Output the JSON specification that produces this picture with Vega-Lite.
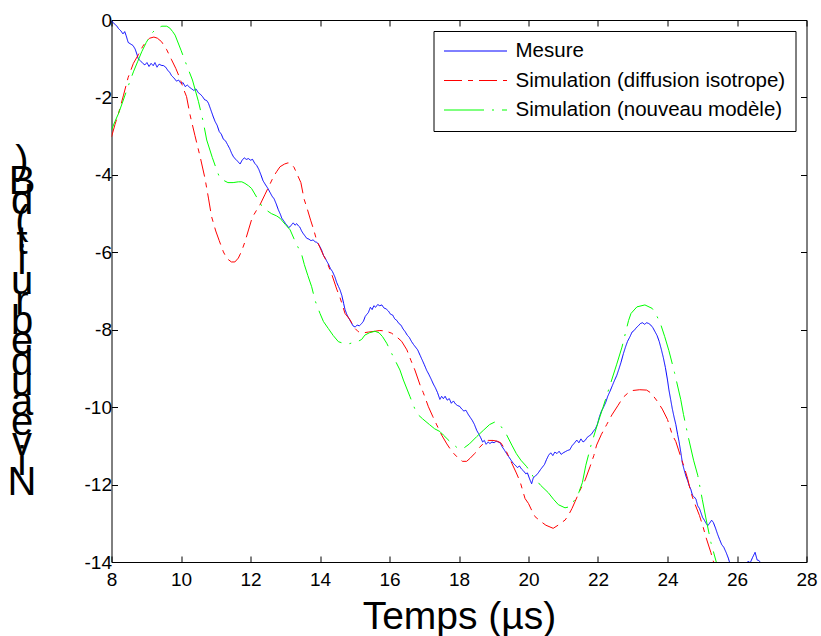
{
  "$schema": "https://vega.github.io/schema/vega-lite/v6.json",
  "width": 695,
  "height": 542,
  "autosize": {"type": "none"},
  "padding": {"left": 111.5, "top": 20, "right": 14.5, "bottom": 74},
  "background": "white",
  "config": {
    "font": "Liberation Sans",
    "view": {"stroke": null},
    "axis": {
      "domainColor": "black",
      "domainWidth": 1,
      "tickColor": "black",
      "tickSize": -6,
      "labelColor": "black",
      "labelFont": "Liberation Sans",
      "labelFontSize": 19,
      "titleFont": "Liberation Sans",
      "titleColor": "black",
      "titleFontWeight": "normal",
      "grid": false
    }
  },
  "data": {
    "values": [
      {"s":"Mesure","t":8.00,"v":-0.02},{"s":"Mesure","t":8.08,"v":-0.10},{"s":"Mesure","t":8.15,"v":-0.15},{"s":"Mesure","t":8.20,"v":-0.22},{"s":"Mesure","t":8.27,"v":-0.28},{"s":"Mesure","t":8.33,"v":-0.36},{"s":"Mesure","t":8.38,"v":-0.30},{"s":"Mesure","t":8.42,"v":-0.40},{"s":"Mesure","t":8.48,"v":-0.58},{"s":"Mesure","t":8.55,"v":-0.62},{"s":"Mesure","t":8.62,"v":-0.66},{"s":"Mesure","t":8.68,"v":-0.75},{"s":"Mesure","t":8.73,"v":-0.88},{"s":"Mesure","t":8.77,"v":-1.00},{"s":"Mesure","t":8.83,"v":-1.05},{"s":"Mesure","t":8.90,"v":-1.12},{"s":"Mesure","t":8.96,"v":-1.16},{"s":"Mesure","t":9.02,"v":-1.10},{"s":"Mesure","t":9.08,"v":-1.20},{"s":"Mesure","t":9.14,"v":-1.12},{"s":"Mesure","t":9.20,"v":-1.18},{"s":"Mesure","t":9.25,"v":-1.10},{"s":"Mesure","t":9.31,"v":-1.22},{"s":"Mesure","t":9.37,"v":-1.14},{"s":"Mesure","t":9.43,"v":-1.17},{"s":"Mesure","t":9.50,"v":-1.18},{"s":"Mesure","t":9.56,"v":-1.22},{"s":"Mesure","t":9.62,"v":-1.30},{"s":"Mesure","t":9.68,"v":-1.36},{"s":"Mesure","t":9.73,"v":-1.44},{"s":"Mesure","t":9.80,"v":-1.50},{"s":"Mesure","t":9.87,"v":-1.58},{"s":"Mesure","t":9.93,"v":-1.55},{"s":"Mesure","t":10.00,"v":-1.64},{"s":"Mesure","t":10.06,"v":-1.62},{"s":"Mesure","t":10.12,"v":-1.72},{"s":"Mesure","t":10.18,"v":-1.68},{"s":"Mesure","t":10.25,"v":-1.74},{"s":"Mesure","t":10.31,"v":-1.78},{"s":"Mesure","t":10.37,"v":-1.82},{"s":"Mesure","t":10.43,"v":-1.78},{"s":"Mesure","t":10.50,"v":-1.88},{"s":"Mesure","t":10.56,"v":-1.92},{"s":"Mesure","t":10.62,"v":-1.98},{"s":"Mesure","t":10.68,"v":-2.06},{"s":"Mesure","t":10.74,"v":-2.08},{"s":"Mesure","t":10.79,"v":-2.15},{"s":"Mesure","t":10.85,"v":-2.30},{"s":"Mesure","t":10.92,"v":-2.48},{"s":"Mesure","t":10.98,"v":-2.62},{"s":"Mesure","t":11.04,"v":-2.72},{"s":"Mesure","t":11.10,"v":-2.88},{"s":"Mesure","t":11.16,"v":-2.95},{"s":"Mesure","t":11.22,"v":-3.08},{"s":"Mesure","t":11.28,"v":-3.12},{"s":"Mesure","t":11.34,"v":-3.22},{"s":"Mesure","t":11.40,"v":-3.32},{"s":"Mesure","t":11.46,"v":-3.45},{"s":"Mesure","t":11.52,"v":-3.55},{"s":"Mesure","t":11.58,"v":-3.60},{"s":"Mesure","t":11.64,"v":-3.66},{"s":"Mesure","t":11.70,"v":-3.72},{"s":"Mesure","t":11.76,"v":-3.62},{"s":"Mesure","t":11.82,"v":-3.56},{"s":"Mesure","t":11.88,"v":-3.60},{"s":"Mesure","t":11.94,"v":-3.58},{"s":"Mesure","t":12.00,"v":-3.62},{"s":"Mesure","t":12.06,"v":-3.60},{"s":"Mesure","t":12.12,"v":-3.70},{"s":"Mesure","t":12.18,"v":-3.76},{"s":"Mesure","t":12.24,"v":-3.86},{"s":"Mesure","t":12.30,"v":-4.00},{"s":"Mesure","t":12.36,"v":-4.15},{"s":"Mesure","t":12.42,"v":-4.24},{"s":"Mesure","t":12.50,"v":-4.35},{"s":"Mesure","t":12.56,"v":-4.45},{"s":"Mesure","t":12.62,"v":-4.55},{"s":"Mesure","t":12.68,"v":-4.62},{"s":"Mesure","t":12.74,"v":-4.75},{"s":"Mesure","t":12.80,"v":-4.90},{"s":"Mesure","t":12.86,"v":-5.02},{"s":"Mesure","t":12.90,"v":-5.12},{"s":"Mesure","t":12.95,"v":-5.18},{"s":"Mesure","t":13.00,"v":-5.25},{"s":"Mesure","t":13.05,"v":-5.30},{"s":"Mesure","t":13.09,"v":-5.36},{"s":"Mesure","t":13.14,"v":-5.34},{"s":"Mesure","t":13.19,"v":-5.28},{"s":"Mesure","t":13.23,"v":-5.24},{"s":"Mesure","t":13.28,"v":-5.30},{"s":"Mesure","t":13.33,"v":-5.26},{"s":"Mesure","t":13.38,"v":-5.32},{"s":"Mesure","t":13.42,"v":-5.35},{"s":"Mesure","t":13.47,"v":-5.45},{"s":"Mesure","t":13.52,"v":-5.52},{"s":"Mesure","t":13.57,"v":-5.58},{"s":"Mesure","t":13.62,"v":-5.64},{"s":"Mesure","t":13.68,"v":-5.66},{"s":"Mesure","t":13.74,"v":-5.70},{"s":"Mesure","t":13.80,"v":-5.68},{"s":"Mesure","t":13.86,"v":-5.73},{"s":"Mesure","t":13.90,"v":-5.74},{"s":"Mesure","t":13.95,"v":-5.78},{"s":"Mesure","t":14.00,"v":-5.86},{"s":"Mesure","t":14.05,"v":-5.95},{"s":"Mesure","t":14.10,"v":-6.08},{"s":"Mesure","t":14.15,"v":-6.15},{"s":"Mesure","t":14.20,"v":-6.24},{"s":"Mesure","t":14.24,"v":-6.30},{"s":"Mesure","t":14.30,"v":-6.42},{"s":"Mesure","t":14.36,"v":-6.50},{"s":"Mesure","t":14.43,"v":-6.64},{"s":"Mesure","t":14.48,"v":-6.78},{"s":"Mesure","t":14.53,"v":-6.88},{"s":"Mesure","t":14.58,"v":-6.98},{"s":"Mesure","t":14.63,"v":-7.12},{"s":"Mesure","t":14.68,"v":-7.32},{"s":"Mesure","t":14.72,"v":-7.48},{"s":"Mesure","t":14.78,"v":-7.62},{"s":"Mesure","t":14.84,"v":-7.72},{"s":"Mesure","t":14.90,"v":-7.82},{"s":"Mesure","t":14.95,"v":-7.90},{"s":"Mesure","t":15.01,"v":-7.93},{"s":"Mesure","t":15.07,"v":-7.88},{"s":"Mesure","t":15.13,"v":-7.90},{"s":"Mesure","t":15.20,"v":-7.84},{"s":"Mesure","t":15.25,"v":-7.78},{"s":"Mesure","t":15.30,"v":-7.66},{"s":"Mesure","t":15.35,"v":-7.60},{"s":"Mesure","t":15.39,"v":-7.56},{"s":"Mesure","t":15.45,"v":-7.42},{"s":"Mesure","t":15.50,"v":-7.48},{"s":"Mesure","t":15.55,"v":-7.38},{"s":"Mesure","t":15.60,"v":-7.42},{"s":"Mesure","t":15.66,"v":-7.35},{"s":"Mesure","t":15.72,"v":-7.38},{"s":"Mesure","t":15.78,"v":-7.36},{"s":"Mesure","t":15.84,"v":-7.44},{"s":"Mesure","t":15.90,"v":-7.46},{"s":"Mesure","t":15.97,"v":-7.52},{"s":"Mesure","t":16.03,"v":-7.60},{"s":"Mesure","t":16.09,"v":-7.62},{"s":"Mesure","t":16.15,"v":-7.72},{"s":"Mesure","t":16.21,"v":-7.76},{"s":"Mesure","t":16.27,"v":-7.84},{"s":"Mesure","t":16.33,"v":-7.88},{"s":"Mesure","t":16.39,"v":-7.98},{"s":"Mesure","t":16.45,"v":-8.05},{"s":"Mesure","t":16.51,"v":-8.14},{"s":"Mesure","t":16.57,"v":-8.20},{"s":"Mesure","t":16.63,"v":-8.30},{"s":"Mesure","t":16.69,"v":-8.38},{"s":"Mesure","t":16.75,"v":-8.45},{"s":"Mesure","t":16.81,"v":-8.52},{"s":"Mesure","t":16.88,"v":-8.66},{"s":"Mesure","t":16.94,"v":-8.78},{"s":"Mesure","t":17.00,"v":-8.90},{"s":"Mesure","t":17.07,"v":-9.05},{"s":"Mesure","t":17.13,"v":-9.15},{"s":"Mesure","t":17.20,"v":-9.28},{"s":"Mesure","t":17.26,"v":-9.40},{"s":"Mesure","t":17.32,"v":-9.50},{"s":"Mesure","t":17.38,"v":-9.62},{"s":"Mesure","t":17.45,"v":-9.80},{"s":"Mesure","t":17.50,"v":-9.72},{"s":"Mesure","t":17.55,"v":-9.78},{"s":"Mesure","t":17.60,"v":-9.72},{"s":"Mesure","t":17.66,"v":-9.82},{"s":"Mesure","t":17.72,"v":-9.78},{"s":"Mesure","t":17.78,"v":-9.90},{"s":"Mesure","t":17.84,"v":-9.84},{"s":"Mesure","t":17.90,"v":-9.92},{"s":"Mesure","t":17.96,"v":-9.96},{"s":"Mesure","t":18.02,"v":-9.98},{"s":"Mesure","t":18.08,"v":-10.05},{"s":"Mesure","t":18.14,"v":-10.10},{"s":"Mesure","t":18.20,"v":-10.08},{"s":"Mesure","t":18.26,"v":-10.18},{"s":"Mesure","t":18.32,"v":-10.26},{"s":"Mesure","t":18.38,"v":-10.34},{"s":"Mesure","t":18.44,"v":-10.44},{"s":"Mesure","t":18.51,"v":-10.60},{"s":"Mesure","t":18.56,"v":-10.68},{"s":"Mesure","t":18.62,"v":-10.78},{"s":"Mesure","t":18.68,"v":-10.90},{"s":"Mesure","t":18.73,"v":-10.86},{"s":"Mesure","t":18.78,"v":-10.96},{"s":"Mesure","t":18.84,"v":-10.90},{"s":"Mesure","t":18.89,"v":-10.94},{"s":"Mesure","t":18.95,"v":-10.90},{"s":"Mesure","t":19.01,"v":-10.92},{"s":"Mesure","t":19.07,"v":-10.88},{"s":"Mesure","t":19.13,"v":-10.90},{"s":"Mesure","t":19.18,"v":-10.92},{"s":"Mesure","t":19.24,"v":-11.02},{"s":"Mesure","t":19.30,"v":-11.10},{"s":"Mesure","t":19.37,"v":-11.20},{"s":"Mesure","t":19.43,"v":-11.28},{"s":"Mesure","t":19.49,"v":-11.36},{"s":"Mesure","t":19.56,"v":-11.45},{"s":"Mesure","t":19.62,"v":-11.50},{"s":"Mesure","t":19.68,"v":-11.56},{"s":"Mesure","t":19.74,"v":-11.52},{"s":"Mesure","t":19.80,"v":-11.60},{"s":"Mesure","t":19.85,"v":-11.64},{"s":"Mesure","t":19.92,"v":-11.72},{"s":"Mesure","t":19.97,"v":-11.70},{"s":"Mesure","t":20.03,"v":-11.85},{"s":"Mesure","t":20.09,"v":-11.98},{"s":"Mesure","t":20.14,"v":-11.82},{"s":"Mesure","t":20.20,"v":-11.78},{"s":"Mesure","t":20.28,"v":-11.70},{"s":"Mesure","t":20.34,"v":-11.62},{"s":"Mesure","t":20.40,"v":-11.55},{"s":"Mesure","t":20.46,"v":-11.48},{"s":"Mesure","t":20.52,"v":-11.35},{"s":"Mesure","t":20.58,"v":-11.24},{"s":"Mesure","t":20.64,"v":-11.18},{"s":"Mesure","t":20.70,"v":-11.25},{"s":"Mesure","t":20.76,"v":-11.16},{"s":"Mesure","t":20.82,"v":-11.20},{"s":"Mesure","t":20.88,"v":-11.14},{"s":"Mesure","t":20.94,"v":-11.22},{"s":"Mesure","t":21.00,"v":-11.18},{"s":"Mesure","t":21.06,"v":-11.15},{"s":"Mesure","t":21.12,"v":-11.12},{"s":"Mesure","t":21.19,"v":-11.10},{"s":"Mesure","t":21.25,"v":-11.00},{"s":"Mesure","t":21.31,"v":-10.94},{"s":"Mesure","t":21.39,"v":-10.85},{"s":"Mesure","t":21.45,"v":-10.92},{"s":"Mesure","t":21.51,"v":-10.82},{"s":"Mesure","t":21.57,"v":-10.90},{"s":"Mesure","t":21.63,"v":-10.86},{"s":"Mesure","t":21.69,"v":-10.78},{"s":"Mesure","t":21.75,"v":-10.74},{"s":"Mesure","t":21.81,"v":-10.70},{"s":"Mesure","t":21.87,"v":-10.62},{"s":"Mesure","t":21.93,"v":-10.55},{"s":"Mesure","t":21.98,"v":-10.45},{"s":"Mesure","t":22.04,"v":-10.25},{"s":"Mesure","t":22.10,"v":-10.10},{"s":"Mesure","t":22.15,"v":-10.02},{"s":"Mesure","t":22.22,"v":-9.88},{"s":"Mesure","t":22.28,"v":-9.72},{"s":"Mesure","t":22.35,"v":-9.58},{"s":"Mesure","t":22.41,"v":-9.45},{"s":"Mesure","t":22.47,"v":-9.32},{"s":"Mesure","t":22.54,"v":-9.18},{"s":"Mesure","t":22.60,"v":-9.02},{"s":"Mesure","t":22.66,"v":-8.85},{"s":"Mesure","t":22.73,"v":-8.62},{"s":"Mesure","t":22.79,"v":-8.45},{"s":"Mesure","t":22.85,"v":-8.30},{"s":"Mesure","t":22.92,"v":-8.18},{"s":"Mesure","t":22.98,"v":-8.06},{"s":"Mesure","t":23.04,"v":-8.02},{"s":"Mesure","t":23.10,"v":-7.95},{"s":"Mesure","t":23.16,"v":-7.90},{"s":"Mesure","t":23.22,"v":-7.84},{"s":"Mesure","t":23.28,"v":-7.82},{"s":"Mesure","t":23.34,"v":-7.86},{"s":"Mesure","t":23.40,"v":-7.82},{"s":"Mesure","t":23.46,"v":-7.84},{"s":"Mesure","t":23.52,"v":-7.88},{"s":"Mesure","t":23.58,"v":-7.95},{"s":"Mesure","t":23.64,"v":-8.05},{"s":"Mesure","t":23.70,"v":-8.15},{"s":"Mesure","t":23.76,"v":-8.30},{"s":"Mesure","t":23.82,"v":-8.50},{"s":"Mesure","t":23.88,"v":-8.72},{"s":"Mesure","t":23.94,"v":-8.98},{"s":"Mesure","t":24.00,"v":-9.30},{"s":"Mesure","t":24.04,"v":-9.55},{"s":"Mesure","t":24.09,"v":-9.80},{"s":"Mesure","t":24.14,"v":-10.05},{"s":"Mesure","t":24.19,"v":-10.26},{"s":"Mesure","t":24.24,"v":-10.45},{"s":"Mesure","t":24.29,"v":-10.70},{"s":"Mesure","t":24.33,"v":-10.88},{"s":"Mesure","t":24.38,"v":-11.15},{"s":"Mesure","t":24.43,"v":-11.45},{"s":"Mesure","t":24.48,"v":-11.62},{"s":"Mesure","t":24.53,"v":-11.78},{"s":"Mesure","t":24.58,"v":-11.90},{"s":"Mesure","t":24.62,"v":-12.02},{"s":"Mesure","t":24.67,"v":-12.12},{"s":"Mesure","t":24.72,"v":-12.28},{"s":"Mesure","t":24.77,"v":-12.32},{"s":"Mesure","t":24.82,"v":-12.38},{"s":"Mesure","t":24.87,"v":-12.55},{"s":"Mesure","t":24.92,"v":-12.62},{"s":"Mesure","t":24.96,"v":-12.72},{"s":"Mesure","t":25.01,"v":-12.85},{"s":"Mesure","t":25.06,"v":-12.92},{"s":"Mesure","t":25.11,"v":-13.00},{"s":"Mesure","t":25.16,"v":-13.06},{"s":"Mesure","t":25.21,"v":-13.00},{"s":"Mesure","t":25.27,"v":-12.92},{"s":"Mesure","t":25.32,"v":-12.98},{"s":"Mesure","t":25.38,"v":-13.12},{"s":"Mesure","t":25.44,"v":-13.28},{"s":"Mesure","t":25.50,"v":-13.42},{"s":"Mesure","t":25.56,"v":-13.55},{"s":"Mesure","t":25.62,"v":-13.62},{"s":"Mesure","t":25.69,"v":-13.76},{"s":"Mesure","t":25.75,"v":-13.90},{"s":"Mesure","t":25.80,"v":-14.05},{"s":"Mesure","t":25.86,"v":-14.15},{"s":"Mesure","t":25.95,"v":-14.30},{"s":"Mesure","t":26.05,"v":-14.40},{"s":"Mesure","t":26.15,"v":-14.25},{"s":"Mesure","t":26.25,"v":-14.05},{"s":"Mesure","t":26.32,"v":-13.98},{"s":"Mesure","t":26.38,"v":-14.02},{"s":"Mesure","t":26.45,"v":-13.88},{"s":"Mesure","t":26.52,"v":-13.75},{"s":"Mesure","t":26.58,"v":-13.95},{"s":"Mesure","t":26.63,"v":-13.96},{"s":"Mesure","t":26.68,"v":-14.02},{"s":"Mesure","t":26.75,"v":-14.25},{"s":"Mesure","t":26.85,"v":-14.50},

      {"s":"Simulation (diffusion isotrope)","t":8.00,"v":-3.02},{"s":"Simulation (diffusion isotrope)","t":8.10,"v":-2.70},{"s":"Simulation (diffusion isotrope)","t":8.20,"v":-2.42},{"s":"Simulation (diffusion isotrope)","t":8.34,"v":-1.96},{"s":"Simulation (diffusion isotrope)","t":8.48,"v":-1.48},{"s":"Simulation (diffusion isotrope)","t":8.63,"v":-1.12},{"s":"Simulation (diffusion isotrope)","t":8.77,"v":-0.90},{"s":"Simulation (diffusion isotrope)","t":8.90,"v":-0.68},{"s":"Simulation (diffusion isotrope)","t":9.00,"v":-0.55},{"s":"Simulation (diffusion isotrope)","t":9.10,"v":-0.47},{"s":"Simulation (diffusion isotrope)","t":9.22,"v":-0.44},{"s":"Simulation (diffusion isotrope)","t":9.32,"v":-0.47},{"s":"Simulation (diffusion isotrope)","t":9.44,"v":-0.56},{"s":"Simulation (diffusion isotrope)","t":9.59,"v":-0.77},{"s":"Simulation (diffusion isotrope)","t":9.73,"v":-1.03},{"s":"Simulation (diffusion isotrope)","t":9.85,"v":-1.25},{"s":"Simulation (diffusion isotrope)","t":9.97,"v":-1.51},{"s":"Simulation (diffusion isotrope)","t":10.08,"v":-1.80},{"s":"Simulation (diffusion isotrope)","t":10.16,"v":-1.98},{"s":"Simulation (diffusion isotrope)","t":10.26,"v":-2.45},{"s":"Simulation (diffusion isotrope)","t":10.40,"v":-2.98},{"s":"Simulation (diffusion isotrope)","t":10.55,"v":-3.53},{"s":"Simulation (diffusion isotrope)","t":10.69,"v":-4.09},{"s":"Simulation (diffusion isotrope)","t":10.79,"v":-4.60},{"s":"Simulation (diffusion isotrope)","t":10.88,"v":-5.08},{"s":"Simulation (diffusion isotrope)","t":11.00,"v":-5.45},{"s":"Simulation (diffusion isotrope)","t":11.10,"v":-5.70},{"s":"Simulation (diffusion isotrope)","t":11.22,"v":-5.99},{"s":"Simulation (diffusion isotrope)","t":11.32,"v":-6.16},{"s":"Simulation (diffusion isotrope)","t":11.45,"v":-6.25},{"s":"Simulation (diffusion isotrope)","t":11.55,"v":-6.25},{"s":"Simulation (diffusion isotrope)","t":11.65,"v":-6.15},{"s":"Simulation (diffusion isotrope)","t":11.74,"v":-5.98},{"s":"Simulation (diffusion isotrope)","t":11.84,"v":-5.73},{"s":"Simulation (diffusion isotrope)","t":11.95,"v":-5.40},{"s":"Simulation (diffusion isotrope)","t":12.05,"v":-5.10},{"s":"Simulation (diffusion isotrope)","t":12.17,"v":-4.92},{"s":"Simulation (diffusion isotrope)","t":12.27,"v":-4.78},{"s":"Simulation (diffusion isotrope)","t":12.42,"v":-4.50},{"s":"Simulation (diffusion isotrope)","t":12.56,"v":-4.24},{"s":"Simulation (diffusion isotrope)","t":12.66,"v":-4.05},{"s":"Simulation (diffusion isotrope)","t":12.75,"v":-3.92},{"s":"Simulation (diffusion isotrope)","t":12.85,"v":-3.79},{"s":"Simulation (diffusion isotrope)","t":12.98,"v":-3.72},{"s":"Simulation (diffusion isotrope)","t":13.08,"v":-3.69},{"s":"Simulation (diffusion isotrope)","t":13.14,"v":-3.70},{"s":"Simulation (diffusion isotrope)","t":13.25,"v":-3.80},{"s":"Simulation (diffusion isotrope)","t":13.35,"v":-4.00},{"s":"Simulation (diffusion isotrope)","t":13.45,"v":-4.20},{"s":"Simulation (diffusion isotrope)","t":13.54,"v":-4.62},{"s":"Simulation (diffusion isotrope)","t":13.62,"v":-4.84},{"s":"Simulation (diffusion isotrope)","t":13.73,"v":-5.17},{"s":"Simulation (diffusion isotrope)","t":13.82,"v":-5.42},{"s":"Simulation (diffusion isotrope)","t":13.90,"v":-5.68},{"s":"Simulation (diffusion isotrope)","t":14.00,"v":-5.88},{"s":"Simulation (diffusion isotrope)","t":14.10,"v":-6.08},{"s":"Simulation (diffusion isotrope)","t":14.20,"v":-6.25},{"s":"Simulation (diffusion isotrope)","t":14.35,"v":-6.60},{"s":"Simulation (diffusion isotrope)","t":14.48,"v":-6.95},{"s":"Simulation (diffusion isotrope)","t":14.58,"v":-7.18},{"s":"Simulation (diffusion isotrope)","t":14.72,"v":-7.58},{"s":"Simulation (diffusion isotrope)","t":14.86,"v":-7.74},{"s":"Simulation (diffusion isotrope)","t":15.00,"v":-7.96},{"s":"Simulation (diffusion isotrope)","t":15.10,"v":-8.05},{"s":"Simulation (diffusion isotrope)","t":15.25,"v":-8.08},{"s":"Simulation (diffusion isotrope)","t":15.40,"v":-8.06},{"s":"Simulation (diffusion isotrope)","t":15.58,"v":-8.04},{"s":"Simulation (diffusion isotrope)","t":15.72,"v":-8.02},{"s":"Simulation (diffusion isotrope)","t":15.85,"v":-8.03},{"s":"Simulation (diffusion isotrope)","t":15.97,"v":-8.06},{"s":"Simulation (diffusion isotrope)","t":16.06,"v":-8.09},{"s":"Simulation (diffusion isotrope)","t":16.20,"v":-8.18},{"s":"Simulation (diffusion isotrope)","t":16.35,"v":-8.30},{"s":"Simulation (diffusion isotrope)","t":16.50,"v":-8.52},{"s":"Simulation (diffusion isotrope)","t":16.62,"v":-8.80},{"s":"Simulation (diffusion isotrope)","t":16.73,"v":-9.04},{"s":"Simulation (diffusion isotrope)","t":16.88,"v":-9.43},{"s":"Simulation (diffusion isotrope)","t":16.97,"v":-9.62},{"s":"Simulation (diffusion isotrope)","t":17.12,"v":-9.99},{"s":"Simulation (diffusion isotrope)","t":17.25,"v":-10.25},{"s":"Simulation (diffusion isotrope)","t":17.36,"v":-10.46},{"s":"Simulation (diffusion isotrope)","t":17.50,"v":-10.72},{"s":"Simulation (diffusion isotrope)","t":17.65,"v":-10.95},{"s":"Simulation (diffusion isotrope)","t":17.80,"v":-11.15},{"s":"Simulation (diffusion isotrope)","t":17.98,"v":-11.32},{"s":"Simulation (diffusion isotrope)","t":18.10,"v":-11.40},{"s":"Simulation (diffusion isotrope)","t":18.22,"v":-11.40},{"s":"Simulation (diffusion isotrope)","t":18.32,"v":-11.32},{"s":"Simulation (diffusion isotrope)","t":18.45,"v":-11.20},{"s":"Simulation (diffusion isotrope)","t":18.58,"v":-11.05},{"s":"Simulation (diffusion isotrope)","t":18.70,"v":-10.94},{"s":"Simulation (diffusion isotrope)","t":18.84,"v":-10.86},{"s":"Simulation (diffusion isotrope)","t":18.98,"v":-10.86},{"s":"Simulation (diffusion isotrope)","t":19.10,"v":-10.88},{"s":"Simulation (diffusion isotrope)","t":19.20,"v":-10.92},{"s":"Simulation (diffusion isotrope)","t":19.35,"v":-11.12},{"s":"Simulation (diffusion isotrope)","t":19.52,"v":-11.45},{"s":"Simulation (diffusion isotrope)","t":19.65,"v":-11.70},{"s":"Simulation (diffusion isotrope)","t":19.76,"v":-11.93},{"s":"Simulation (diffusion isotrope)","t":19.90,"v":-12.36},{"s":"Simulation (diffusion isotrope)","t":20.00,"v":-12.49},{"s":"Simulation (diffusion isotrope)","t":20.10,"v":-12.68},{"s":"Simulation (diffusion isotrope)","t":20.19,"v":-12.83},{"s":"Simulation (diffusion isotrope)","t":20.35,"v":-12.95},{"s":"Simulation (diffusion isotrope)","t":20.50,"v":-13.05},{"s":"Simulation (diffusion isotrope)","t":20.71,"v":-13.13},{"s":"Simulation (diffusion isotrope)","t":20.85,"v":-13.05},{"s":"Simulation (diffusion isotrope)","t":20.95,"v":-12.98},{"s":"Simulation (diffusion isotrope)","t":21.05,"v":-12.92},{"s":"Simulation (diffusion isotrope)","t":21.15,"v":-12.79},{"s":"Simulation (diffusion isotrope)","t":21.25,"v":-12.62},{"s":"Simulation (diffusion isotrope)","t":21.34,"v":-12.44},{"s":"Simulation (diffusion isotrope)","t":21.48,"v":-12.15},{"s":"Simulation (diffusion isotrope)","t":21.63,"v":-11.88},{"s":"Simulation (diffusion isotrope)","t":21.77,"v":-11.54},{"s":"Simulation (diffusion isotrope)","t":21.88,"v":-11.25},{"s":"Simulation (diffusion isotrope)","t":21.96,"v":-10.98},{"s":"Simulation (diffusion isotrope)","t":22.10,"v":-10.70},{"s":"Simulation (diffusion isotrope)","t":22.25,"v":-10.45},{"s":"Simulation (diffusion isotrope)","t":22.40,"v":-10.20},{"s":"Simulation (diffusion isotrope)","t":22.58,"v":-9.95},{"s":"Simulation (diffusion isotrope)","t":22.72,"v":-9.75},{"s":"Simulation (diffusion isotrope)","t":22.88,"v":-9.62},{"s":"Simulation (diffusion isotrope)","t":23.00,"v":-9.57},{"s":"Simulation (diffusion isotrope)","t":23.20,"v":-9.55},{"s":"Simulation (diffusion isotrope)","t":23.40,"v":-9.56},{"s":"Simulation (diffusion isotrope)","t":23.50,"v":-9.62},{"s":"Simulation (diffusion isotrope)","t":23.60,"v":-9.72},{"s":"Simulation (diffusion isotrope)","t":23.70,"v":-9.84},{"s":"Simulation (diffusion isotrope)","t":23.85,"v":-10.05},{"s":"Simulation (diffusion isotrope)","t":24.00,"v":-10.32},{"s":"Simulation (diffusion isotrope)","t":24.14,"v":-10.72},{"s":"Simulation (diffusion isotrope)","t":24.24,"v":-10.89},{"s":"Simulation (diffusion isotrope)","t":24.38,"v":-11.28},{"s":"Simulation (diffusion isotrope)","t":24.48,"v":-11.55},{"s":"Simulation (diffusion isotrope)","t":24.58,"v":-11.85},{"s":"Simulation (diffusion isotrope)","t":24.67,"v":-12.19},{"s":"Simulation (diffusion isotrope)","t":24.75,"v":-12.41},{"s":"Simulation (diffusion isotrope)","t":24.92,"v":-12.80},{"s":"Simulation (diffusion isotrope)","t":25.02,"v":-13.08},{"s":"Simulation (diffusion isotrope)","t":25.11,"v":-13.37},{"s":"Simulation (diffusion isotrope)","t":25.25,"v":-13.76},{"s":"Simulation (diffusion isotrope)","t":25.30,"v":-13.93},{"s":"Simulation (diffusion isotrope)","t":25.40,"v":-14.20},

      {"s":"Simulation (nouveau modèle)","t":8.00,"v":-2.84},{"s":"Simulation (nouveau modèle)","t":8.10,"v":-2.62},{"s":"Simulation (nouveau modèle)","t":8.20,"v":-2.42},{"s":"Simulation (nouveau modèle)","t":8.32,"v":-2.12},{"s":"Simulation (nouveau modèle)","t":8.44,"v":-1.81},{"s":"Simulation (nouveau modèle)","t":8.54,"v":-1.56},{"s":"Simulation (nouveau modèle)","t":8.63,"v":-1.34},{"s":"Simulation (nouveau modèle)","t":8.75,"v":-1.08},{"s":"Simulation (nouveau modèle)","t":8.87,"v":-0.82},{"s":"Simulation (nouveau modèle)","t":9.00,"v":-0.58},{"s":"Simulation (nouveau modèle)","t":9.16,"v":-0.34},{"s":"Simulation (nouveau modèle)","t":9.30,"v":-0.22},{"s":"Simulation (nouveau modèle)","t":9.45,"v":-0.16},{"s":"Simulation (nouveau modèle)","t":9.59,"v":-0.16},{"s":"Simulation (nouveau modèle)","t":9.68,"v":-0.21},{"s":"Simulation (nouveau modèle)","t":9.76,"v":-0.30},{"s":"Simulation (nouveau modèle)","t":9.83,"v":-0.39},{"s":"Simulation (nouveau modèle)","t":10.00,"v":-0.78},{"s":"Simulation (nouveau modèle)","t":10.16,"v":-1.16},{"s":"Simulation (nouveau modèle)","t":10.33,"v":-1.55},{"s":"Simulation (nouveau modèle)","t":10.50,"v":-2.10},{"s":"Simulation (nouveau modèle)","t":10.64,"v":-2.63},{"s":"Simulation (nouveau modèle)","t":10.74,"v":-3.10},{"s":"Simulation (nouveau modèle)","t":10.90,"v":-3.55},{"s":"Simulation (nouveau modèle)","t":11.03,"v":-3.88},{"s":"Simulation (nouveau modèle)","t":11.12,"v":-4.09},{"s":"Simulation (nouveau modèle)","t":11.20,"v":-4.13},{"s":"Simulation (nouveau modèle)","t":11.35,"v":-4.20},{"s":"Simulation (nouveau modèle)","t":11.50,"v":-4.20},{"s":"Simulation (nouveau modèle)","t":11.65,"v":-4.18},{"s":"Simulation (nouveau modèle)","t":11.75,"v":-4.18},{"s":"Simulation (nouveau modèle)","t":11.84,"v":-4.22},{"s":"Simulation (nouveau modèle)","t":11.94,"v":-4.28},{"s":"Simulation (nouveau modèle)","t":12.03,"v":-4.35},{"s":"Simulation (nouveau modèle)","t":12.18,"v":-4.58},{"s":"Simulation (nouveau modèle)","t":12.32,"v":-4.80},{"s":"Simulation (nouveau modèle)","t":12.47,"v":-4.92},{"s":"Simulation (nouveau modèle)","t":12.60,"v":-5.00},{"s":"Simulation (nouveau modèle)","t":12.75,"v":-5.06},{"s":"Simulation (nouveau modèle)","t":12.85,"v":-5.12},{"s":"Simulation (nouveau modèle)","t":13.00,"v":-5.28},{"s":"Simulation (nouveau modèle)","t":13.14,"v":-5.42},{"s":"Simulation (nouveau modèle)","t":13.30,"v":-5.75},{"s":"Simulation (nouveau modèle)","t":13.47,"v":-6.05},{"s":"Simulation (nouveau modèle)","t":13.55,"v":-6.32},{"s":"Simulation (nouveau modèle)","t":13.65,"v":-6.60},{"s":"Simulation (nouveau modèle)","t":13.76,"v":-6.89},{"s":"Simulation (nouveau modèle)","t":13.86,"v":-7.25},{"s":"Simulation (nouveau modèle)","t":14.00,"v":-7.58},{"s":"Simulation (nouveau modèle)","t":14.10,"v":-7.79},{"s":"Simulation (nouveau modèle)","t":14.24,"v":-7.97},{"s":"Simulation (nouveau modèle)","t":14.38,"v":-8.15},{"s":"Simulation (nouveau modèle)","t":14.53,"v":-8.31},{"s":"Simulation (nouveau modèle)","t":14.70,"v":-8.36},{"s":"Simulation (nouveau modèle)","t":14.85,"v":-8.36},{"s":"Simulation (nouveau modèle)","t":14.96,"v":-8.33},{"s":"Simulation (nouveau modèle)","t":15.10,"v":-8.30},{"s":"Simulation (nouveau modèle)","t":15.20,"v":-8.25},{"s":"Simulation (nouveau modèle)","t":15.29,"v":-8.14},{"s":"Simulation (nouveau modèle)","t":15.42,"v":-8.08},{"s":"Simulation (nouveau modèle)","t":15.58,"v":-8.04},{"s":"Simulation (nouveau modèle)","t":15.70,"v":-8.08},{"s":"Simulation (nouveau modèle)","t":15.80,"v":-8.18},{"s":"Simulation (nouveau modèle)","t":15.92,"v":-8.35},{"s":"Simulation (nouveau modèle)","t":16.11,"v":-8.70},{"s":"Simulation (nouveau modèle)","t":16.30,"v":-9.04},{"s":"Simulation (nouveau modèle)","t":16.40,"v":-9.30},{"s":"Simulation (nouveau modèle)","t":16.59,"v":-9.73},{"s":"Simulation (nouveau modèle)","t":16.78,"v":-10.16},{"s":"Simulation (nouveau modèle)","t":16.95,"v":-10.30},{"s":"Simulation (nouveau modèle)","t":17.15,"v":-10.45},{"s":"Simulation (nouveau modèle)","t":17.30,"v":-10.56},{"s":"Simulation (nouveau modèle)","t":17.45,"v":-10.63},{"s":"Simulation (nouveau modèle)","t":17.55,"v":-10.72},{"s":"Simulation (nouveau modèle)","t":17.74,"v":-10.89},{"s":"Simulation (nouveau modèle)","t":17.95,"v":-11.05},{"s":"Simulation (nouveau modèle)","t":18.12,"v":-11.07},{"s":"Simulation (nouveau modèle)","t":18.30,"v":-10.95},{"s":"Simulation (nouveau modèle)","t":18.51,"v":-10.76},{"s":"Simulation (nouveau modèle)","t":18.70,"v":-10.60},{"s":"Simulation (nouveau modèle)","t":18.88,"v":-10.45},{"s":"Simulation (nouveau modèle)","t":19.04,"v":-10.38},{"s":"Simulation (nouveau modèle)","t":19.18,"v":-10.46},{"s":"Simulation (nouveau modèle)","t":19.35,"v":-10.68},{"s":"Simulation (nouveau modèle)","t":19.52,"v":-10.98},{"s":"Simulation (nouveau modèle)","t":19.65,"v":-11.20},{"s":"Simulation (nouveau modèle)","t":19.78,"v":-11.37},{"s":"Simulation (nouveau modèle)","t":19.95,"v":-11.54},{"s":"Simulation (nouveau modèle)","t":20.14,"v":-11.80},{"s":"Simulation (nouveau modèle)","t":20.35,"v":-12.02},{"s":"Simulation (nouveau modèle)","t":20.57,"v":-12.21},{"s":"Simulation (nouveau modèle)","t":20.72,"v":-12.38},{"s":"Simulation (nouveau modèle)","t":20.86,"v":-12.52},{"s":"Simulation (nouveau modèle)","t":21.05,"v":-12.60},{"s":"Simulation (nouveau modèle)","t":21.20,"v":-12.57},{"s":"Simulation (nouveau modèle)","t":21.34,"v":-12.38},{"s":"Simulation (nouveau modèle)","t":21.45,"v":-12.20},{"s":"Simulation (nouveau modèle)","t":21.55,"v":-11.95},{"s":"Simulation (nouveau modèle)","t":21.65,"v":-11.50},{"s":"Simulation (nouveau modèle)","t":21.80,"v":-10.98},{"s":"Simulation (nouveau modèle)","t":22.00,"v":-10.40},{"s":"Simulation (nouveau modèle)","t":22.15,"v":-9.99},{"s":"Simulation (nouveau modèle)","t":22.35,"v":-9.42},{"s":"Simulation (nouveau modèle)","t":22.54,"v":-8.89},{"s":"Simulation (nouveau modèle)","t":22.69,"v":-8.45},{"s":"Simulation (nouveau modèle)","t":22.80,"v":-8.05},{"s":"Simulation (nouveau modèle)","t":22.88,"v":-7.76},{"s":"Simulation (nouveau modèle)","t":22.95,"v":-7.58},{"s":"Simulation (nouveau modèle)","t":23.12,"v":-7.41},{"s":"Simulation (nouveau modèle)","t":23.35,"v":-7.36},{"s":"Simulation (nouveau modèle)","t":23.56,"v":-7.45},{"s":"Simulation (nouveau modèle)","t":23.68,"v":-7.62},{"s":"Simulation (nouveau modèle)","t":23.80,"v":-7.85},{"s":"Simulation (nouveau modèle)","t":23.92,"v":-8.18},{"s":"Simulation (nouveau modèle)","t":24.04,"v":-8.54},{"s":"Simulation (nouveau modèle)","t":24.20,"v":-9.10},{"s":"Simulation (nouveau modèle)","t":24.38,"v":-9.80},{"s":"Simulation (nouveau modèle)","t":24.46,"v":-10.19},{"s":"Simulation (nouveau modèle)","t":24.60,"v":-10.78},{"s":"Simulation (nouveau modèle)","t":24.75,"v":-11.37},{"s":"Simulation (nouveau modèle)","t":24.87,"v":-11.76},{"s":"Simulation (nouveau modèle)","t":25.00,"v":-12.38},{"s":"Simulation (nouveau modèle)","t":25.11,"v":-12.89},{"s":"Simulation (nouveau modèle)","t":25.25,"v":-13.50},{"s":"Simulation (nouveau modèle)","t":25.45,"v":-14.15},{"s":"Simulation (nouveau modèle)","t":25.55,"v":-14.50}
    ]
  },
  "layer": [
    {
      "mark": {"type": "line", "strokeWidth": 1, "clip": true},
      "encoding": {
        "x": {
          "field": "t", "type": "quantitative",
          "scale": {"domain": [8, 28], "nice": false, "zero": false},
          "axis": {
            "orient": "bottom",
            "values": [8, 10, 12, 14, 16, 18, 20, 22, 24, 26, 28],
            "labelPadding": 14,
            "labelFlush": false,
            "title": "Temps (µs)",
            "titleFontSize": 39,
            "titlePadding": 8
          }
        },
        "y": {
          "field": "v", "type": "quantitative",
          "scale": {"domain": [-14, 0], "nice": false, "zero": false},
          "axis": {
            "orient": "left",
            "values": [-14, -12, -10, -8, -6, -4, -2, 0],
            "labelExpr": "datum.value + ''",
            "labelPadding": 6,
            "labelFlush": false,
            "title": [")", "B", "d", "(", " ", "t", "i", "u", "r", "b", " ", "e", "d", " ", "u", "a", "e", "v", "i", "N"],
            "titleAngle": 0,
            "titleFontSize": 40,
            "titleLineHeight": 20.1,
            "titleAlign": "center",
            "titleBaseline": "middle",
            "titleX": -90,
            "titleY": 141
          }
        },
        "color": {
          "field": "s", "type": "nominal",
          "scale": {
            "domain": ["Mesure", "Simulation (diffusion isotrope)", "Simulation (nouveau modèle)"],
            "range": ["#0000ff", "#ff0000", "#00ff00"]
          },
          "legend": {
            "title": null, "orient": "none", "legendX": 322, "legendY": 11,
            "symbolType": "stroke", "symbolSize": 3969, "symbolStrokeWidth": 1,
            "labelFontSize": 20.5, "labelFont": "Liberation Sans", "labelColor": "black",
            "labelOffset": 8, "labelLimit": 400, "clipHeight": 20, "rowPadding": 8.5,
            "padding": 10, "strokeColor": "black", "fillColor": "white", "cornerRadius": 0
          }
        },
        "strokeDash": {
          "field": "s", "type": "nominal",
          "scale": {
            "domain": ["Mesure", "Simulation (diffusion isotrope)", "Simulation (nouveau modèle)"],
            "range": [[1, 0], [18, 6, 5, 6], [40, 8, 2, 8]]
          },
          "legend": {
            "title": null, "orient": "none", "legendX": 322, "legendY": 11,
            "symbolType": "stroke", "symbolSize": 3969, "symbolStrokeWidth": 1,
            "labelFontSize": 20.5, "labelFont": "Liberation Sans", "labelColor": "black",
            "labelOffset": 8, "labelLimit": 400, "clipHeight": 20, "rowPadding": 8.5,
            "padding": 10, "strokeColor": "black", "fillColor": "white", "cornerRadius": 0
          }
        }
      }
    },
    {
      "mark": {"type": "line", "opacity": 0},
      "encoding": {
        "x": {
          "field": "t", "type": "quantitative",
          "scale": {"domain": [8, 28], "nice": false, "zero": false},
          "axis": {"orient": "top", "values": [8, 10, 12, 14, 16, 18, 20, 22, 24, 26, 28], "labels": false, "title": null}
        },
        "y": {
          "field": "v", "type": "quantitative",
          "scale": {"domain": [-14, 0], "nice": false, "zero": false},
          "axis": {"orient": "right", "values": [-14, -12, -10, -8, -6, -4, -2, 0], "labels": false, "title": null}
        },
        "detail": {"field": "s", "type": "nominal"}
      }
    }
  ],
  "resolve": {"axis": {"x": "independent", "y": "independent"}}
}
